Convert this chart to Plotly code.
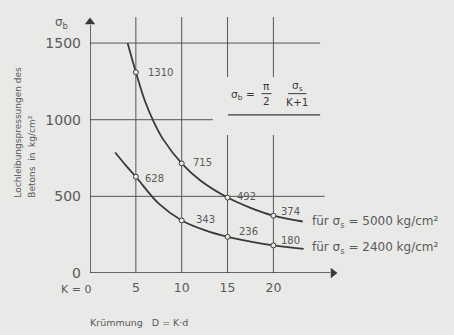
import plotly.graph_objects as go

# ---- data ----
upper_k = [4.1, 5, 6, 7, 8, 10, 12, 15, 17.5, 20, 23.2]
upper_v = [1500, 1310, 1120, 980, 870, 715, 605, 492, 425, 374, 336]
lower_k = [2.75, 4, 5, 7.5, 10, 12.5, 15, 17.5, 20, 23.3]
lower_v = [786, 695, 628, 452, 343, 280, 236, 205, 180, 157]
mark_k = [5, 10, 15, 20]
upper_marks = [1310, 715, 492, 374]
lower_marks = [628, 343, 236, 180]
x_ticks = [5, 10, 15, 20]
x_ticktext = ["5", "10", "15", "20"]
y_ticks = [0, 500, 1000, 1500]
y_ticktext = ["0", "500", "1000", "1500"]

BG = "#e9e9e7"
INK = "#3a3a3a"
TXT = "#5a5a5a"
FONT = "DejaVu Sans"
X_END = 26.5
Y_END = 1637

fig = go.Figure()

# curves
for k, v in [(upper_k, upper_v), (lower_k, lower_v)]:
    fig.add_trace(go.Scatter(x=k, y=v, mode="lines", line=dict(color=INK, width=1.8, shape="spline"),
                             hoverinfo="skip", showlegend=False))
for v in [upper_marks, lower_marks]:
    fig.add_trace(go.Scatter(x=mark_k, y=v, mode="markers",
                             marker=dict(symbol="circle", size=5, color=BG, line=dict(color=INK, width=1)),
                             showlegend=False))
# axis arrowheads
fig.add_trace(go.Scatter(x=[0], y=[Y_END], mode="markers", cliponaxis=False, hoverinfo="skip",
                         marker=dict(symbol="triangle-up", size=9, color=INK), showlegend=False))
fig.add_trace(go.Scatter(x=[X_END], y=[0], mode="markers", cliponaxis=False, hoverinfo="skip",
                         marker=dict(symbol="triangle-right", size=9, color=INK), showlegend=False))

shapes = []
grid = dict(color="#555555", width=1)
axis_line = dict(color=INK, width=1.5)
# axes
shapes.append(dict(type="line", xref="x", yref="y", x0=0, x1=0, y0=0, y1=Y_END - 20, line=axis_line))
shapes.append(dict(type="line", xref="x", yref="y", x0=0, x1=X_END - 0.3, y0=0, y1=0, line=axis_line))
# horizontal grid segments
for yv, x1 in [(1500, 25.1), (1000, 13.4), (500, 25.6)]:
    shapes.append(dict(type="line", xref="x", yref="y", x0=-0.3, x1=x1, y0=yv, y1=yv, line=grid, layer="below"))
# vertical grid segments
for xv in [5, 10]:
    shapes.append(dict(type="line", xref="x", yref="y", x0=xv, x1=xv, y0=0, y1=1670, line=grid, layer="below"))
for xv in [15, 20]:
    shapes.append(dict(type="line", xref="x", yref="y", x0=xv, x1=xv, y0=0, y1=900, line=grid, layer="below"))
    shapes.append(dict(type="line", xref="x", yref="y", x0=xv, x1=xv, y0=1278, y1=1670, line=grid, layer="below"))
# formula underline
shapes.append(dict(type="line", xref="x", yref="y", x0=15.05, x1=25.1, y0=1031, y1=1031, line=dict(color=INK, width=1.2)))
# fraction bars
shapes.append(dict(type="line", xref="x", yref="y", x0=18.7, x1=19.8, y0=1170, y1=1170, line=dict(color=INK, width=1)))
shapes.append(dict(type="line", xref="x", yref="y", x0=21.6, x1=23.6, y0=1170, y1=1170, line=dict(color=INK, width=1)))

ann = []
# point labels
lab_font = dict(family=FONT, size=10, color=TXT)
shifts_u = [(10, 0), (9, 1), (7, 1), (6, 4)]
shifts_l = [(7, -2), (12, 1), (9, 5), (6, 5)]
for k, v, (dx, dy) in zip(mark_k, upper_marks, shifts_u):
    ann.append(dict(x=k, y=v, text=str(v), showarrow=False, xanchor="left", yanchor="middle",
                    xshift=dx, yshift=dy, font=lab_font))
for k, v, (dx, dy) in zip(mark_k, lower_marks, shifts_l):
    ann.append(dict(x=k, y=v, text=str(v), showarrow=False, xanchor="left", yanchor="middle",
                    xshift=dx, yshift=dy, font=lab_font))

# series labels
ser_font = dict(family=FONT, size=12, color=TXT)
ann.append(dict(x=24.0, y=333, text="für σ<sub>s</sub> = 5000 kg/cm²", showarrow=False,
                xanchor="left", yanchor="middle", font=ser_font))
ann.append(dict(x=24.0, y=163, text="für σ<sub>s</sub> = 2400 kg/cm²", showarrow=False,
                xanchor="left", yanchor="middle", font=ser_font))

# formula
f_font = dict(family=FONT, size=10.5, color=INK)
ann.append(dict(x=15.2, y=1160, text="σ<sub>b</sub>", showarrow=False, xanchor="left", yanchor="middle", font=f_font))
ann.append(dict(x=17.5, y=1170, text="=", showarrow=False, xanchor="center", yanchor="middle", font=f_font))
ann.append(dict(x=19.25, y=1220, text="π", showarrow=False, xanchor="center", yanchor="middle", font=f_font))
ann.append(dict(x=19.25, y=1120, text="2", showarrow=False, xanchor="center", yanchor="middle", font=f_font))
ann.append(dict(x=22.6, y=1220, text="σ<sub>s</sub>", showarrow=False, xanchor="center", yanchor="middle", font=f_font))
ann.append(dict(x=22.6, y=1115, text="K+1", showarrow=False, xanchor="center", yanchor="middle", font=f_font))

# axis labels
ann.append(dict(xref="paper", yref="paper", x=-0.119, y=0.975, text="σ<sub>b</sub>", showarrow=False,
                xanchor="center", yanchor="middle", font=dict(family=FONT, size=12, color=TXT)))
ann.append(dict(x=0, y=0, text="K = 0", showarrow=False, xanchor="right", yanchor="top",
                xshift=3, yshift=-8, font=dict(family=FONT, size=11, color=TXT)))
ann.append(dict(xref="paper", yref="paper", x=-0.008, y=-0.195, text="Krümmung   D = K·d", showarrow=False,
                xanchor="left", yanchor="middle", font=dict(family=FONT, size=9.5, color=TXT)))
ann.append(dict(xref="paper", yref="paper", x=-0.30, y=0.285, text="Lochleibungspressungen des",
                textangle=-90, showarrow=False, xanchor="center", yanchor="bottom",
                font=dict(family=FONT, size=9, color=TXT)))
ann.append(dict(xref="paper", yref="paper", x=-0.24, y=0.285, text="Betons  in  kg/cm²",
                textangle=-90, showarrow=False, xanchor="center", yanchor="bottom",
                font=dict(family=FONT, size=9, color=TXT)))

fig.update_layout(
    width=454, height=335,
    margin=dict(l=90, r=121, t=17, b=62),
    paper_bgcolor=BG, plot_bgcolor=BG,
    shapes=shapes, annotations=ann,
    xaxis=dict(range=[0, 26.5], tickvals=x_ticks, ticktext=x_ticktext, showgrid=False, zeroline=False,
               showline=False, ticks="", ticklabelstandoff=5,
               tickfont=dict(family=FONT, size=12.5, color=TXT)),
    yaxis=dict(range=[0, 1670], tickvals=y_ticks, ticktext=y_ticktext, showgrid=False, zeroline=False,
               showline=False, ticks="", ticklabelstandoff=8,
               tickfont=dict(family=FONT, size=14, color=TXT)),
)

fig.write_html("out.html", config={"displayModeBar": False},
               post_script="document.body.style.margin='0';document.body.style.background='" + BG + "';")
